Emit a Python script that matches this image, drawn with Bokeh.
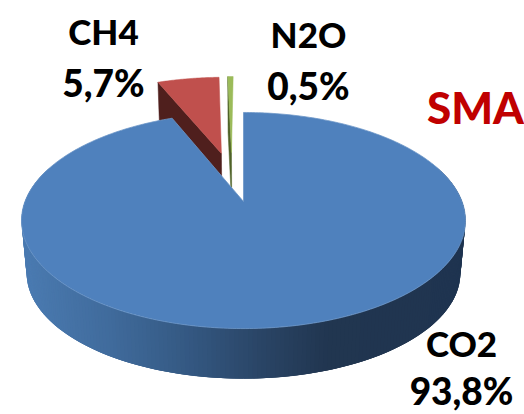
import numpy as np
from bokeh.embed import file_html
from bokeh.models import ColumnDataSource
from bokeh.plotting import figure
from bokeh.resources import INLINE
from bokeh.core.properties import value

categories = ["CO2", "CH4", "N2O"]
shares = [93.8, 5.7, 0.5]
chart_title = "SMA"

# Projection of the tilted disc onto the page (pixels, y grows downward)
APEX_X, APEX_Y = 243.0, 201.0
RADIUS_X, RADIUS_Y = 218.5, 104.7
TILT = 0.176
DEPTH = 53.0
FOOT_SCALE = 0.977

# Pull-out of each wedge, in disc units (sideways, backwards)
explode = {"CO2": (0.0, 0.0), "CH4": (-0.11, 0.50), "N2O": (-0.06, 0.511)}
top_colors = {"CO2": "#4f81bd", "CH4": "#c0504d", "N2O": "#9bbb59"}
wall_colors = {"CH4": "#4f1f1d", "N2O": "#4f6228"}

# Front wall of the big wedge darkens from left to right
wall_stop_x = [27, 110, 190, 262, 330, 467]
wall_stop_rgb = [(74, 122, 176), (64, 107, 156), (52, 88, 130), (42, 69, 102), (33, 54, 80), (31, 52, 80)]


def project(u, v):
    d = 1 + TILT * v
    return APEX_X + RADIUS_X * u / d, APEX_Y - RADIUS_Y * v / d


def foot(x, y):
    return (APEX_X + (x - APEX_X) * FOOT_SCALE,
            APEX_Y + DEPTH + (y - APEX_Y) * FOOT_SCALE)


def arc(start_deg, end_deg, name, steps=240):
    t = np.radians(np.linspace(start_deg, end_deg, steps))
    ex, ev = explode[name]
    return project(np.sin(t) + ex, np.cos(t) + ev)


def wall_color(x):
    rgb = [np.interp(x, wall_stop_x, [c[i] for c in wall_stop_rgb]) for i in range(3)]
    return "#%02x%02x%02x" % tuple(int(round(c)) for c in rgb)


p = figure(width=524, height=414, x_range=(0, 524), y_range=(414, 0),
           output_backend="svg", toolbar_location=None, min_border=0,
           background_fill_color="white", border_fill_color="white")
p.axis.visible = False
p.grid.visible = False
p.outline_line_color = None

# Wedge sweep, clockwise from twelve o'clock
edges = np.concatenate([[0], np.cumsum(shares)]) * 3.6
span = dict(zip(categories, zip(edges[:-1], edges[1:])))

# Small pulled-out wedges sit behind the big one
for name in ["CH4", "N2O"]:
    a0, a1 = span[name]
    ax, ay = project(*explode[name])
    xs, ys = arc(a0, a1, name, 40)
    fx0, fy0 = foot(xs[0], ys[0])
    fax, fay = foot(ax, ay)
    p.patch([xs[0], ax, fax, fx0], [ys[0], ay, fay, fy0],
            fill_color=wall_colors[name], line_color=wall_colors[name], line_width=0.5)
    p.patch(np.r_[ax, xs], np.r_[ay, ys], fill_color=top_colors[name],
            line_color=top_colors[name], line_width=0.5)

# Outer wall of the big wedge: overlapping shaded strips, so no seams show
a0, a1 = span["CO2"]
ring_x, ring_y = arc(70, 290, "CO2", 221)
foot_x, foot_y = foot(ring_x, ring_y)
n = len(ring_x) - 3
strips = ColumnDataSource(dict(
    xs=[[ring_x[i], ring_x[i + 3], foot_x[i + 3], foot_x[i]] for i in range(n)],
    ys=[[ring_y[i], ring_y[i + 3], foot_y[i + 3], foot_y[i]] for i in range(n)],
    color=[wall_color(ring_x[i]) for i in range(n)],
))
p.patches("xs", "ys", source=strips, fill_color="color", line_color=None)

# Top face of the big wedge
xs, ys = arc(a0, a1, "CO2", 360)
p.patch(np.r_[APEX_X, xs], np.r_[APEX_Y, ys], fill_color=top_colors["CO2"],
        line_color="#6d97c8", line_width=0.8)


def pct(v):
    return f"{v:.1f}%".replace(".", ",")


label_font = value("Lato Black")
# name line and value line for each wedge, centred on their anchors
label_x = {"CH4": 103, "N2O": 308, "CO2": 461}
name_y = {"CH4": 30, "N2O": 33, "CO2": 342}
value_y = {"CH4": 82, "N2O": 85, "CO2": 390}
for name, share in zip(categories, shares):
    p.text([label_x[name]], [name_y[name]], text=[name], text_font=label_font,
           text_font_style="bold", text_font_size="35px", text_color="black",
           text_align="center", text_baseline="middle")
    p.text([label_x[name]], [value_y[name]], text=[pct(share)], text_font=label_font,
           text_font_style="bold", text_font_size="37px", text_color="black",
           text_align="center", text_baseline="middle")

p.text([475], [106], text=[chart_title], text_font=label_font, text_font_style="bold",
       text_font_size="44px", text_color="#c00000", text_align="center", text_baseline="middle")

open("out.html", "w").write(file_html(p, INLINE))
